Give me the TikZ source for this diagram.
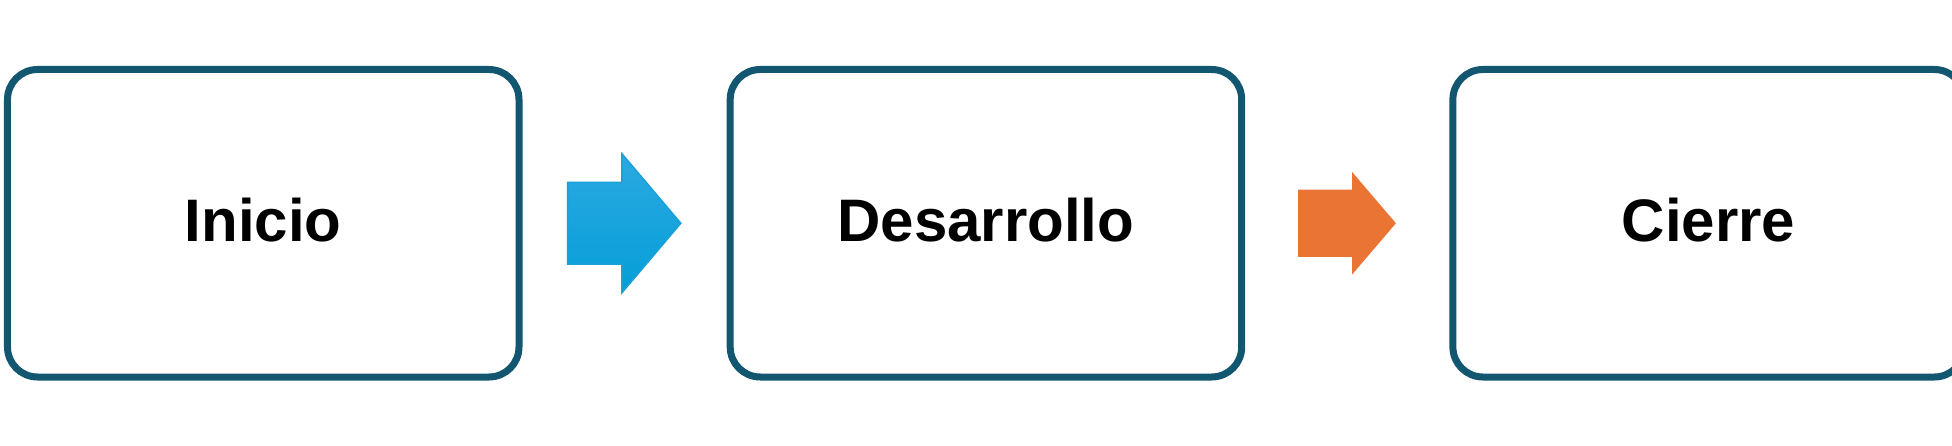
\documentclass[tikz,border=0pt]{standalone}
\usepackage{fontspec}
\setmainfont{Liberation Sans}
\usepackage{xcolor}
\usepackage{tikz}
\usetikzlibrary{matrix}
\definecolor{boxline}{HTML}{12566F}
\definecolor{blueTop}{HTML}{2CA9E1}
\definecolor{blueBot}{HTML}{049ED7}
\definecolor{blueEdge}{HTML}{1AA0D9}
\definecolor{orangeFill}{HTML}{E97434}
\tikzset{
  stage/.style={draw=boxline, line width=7pt, rounded corners=30pt, fill=white,
    minimum width=511.5pt, minimum height=307.5pt, inner sep=0pt, outer sep=0pt,
    text depth=6pt, font=\fontsize{60}{72}\selectfont\bfseries},
  bluearrow/.style={top color=blueTop, bottom color=blueBot, draw=blueEdge, line width=1.5pt},
  orangearrow/.style={fill=orangeFill}
}
\begin{document}
\begin{tikzpicture}[x=1pt,y=1pt]
\useasboundingbox (0,0) rectangle (1952,-446);
\matrix[matrix of nodes, nodes={stage, anchor=center}, column sep=204.2pt, inner sep=0pt, outer sep=0pt, anchor=west] (S) at (4,-223.25) {
 Inicio & Desarrollo & Cierre \\
};
% blue arrow
\path[bluearrow] ([xshift=48.5]S-1-1.east) ++(0,40.8) -- ++(54.3,0) -- ++(0,28.85)
  -- ++(59,-69.65) -- ++(-59,-69.65) -- ++(0,28.85) -- ++(-54.3,0) -- cycle;
% orange arrow
\fill[orangearrow] ([xshift=56.5]S-1-2.east) ++(0,33.7) -- ++(54,0) -- ++(0,17.45)
  -- ++(43.7,-51.15) -- ++(-43.7,-51.15) -- ++(0,17.45) -- ++(-54,0) -- cycle;
\end{tikzpicture}
\end{document}
